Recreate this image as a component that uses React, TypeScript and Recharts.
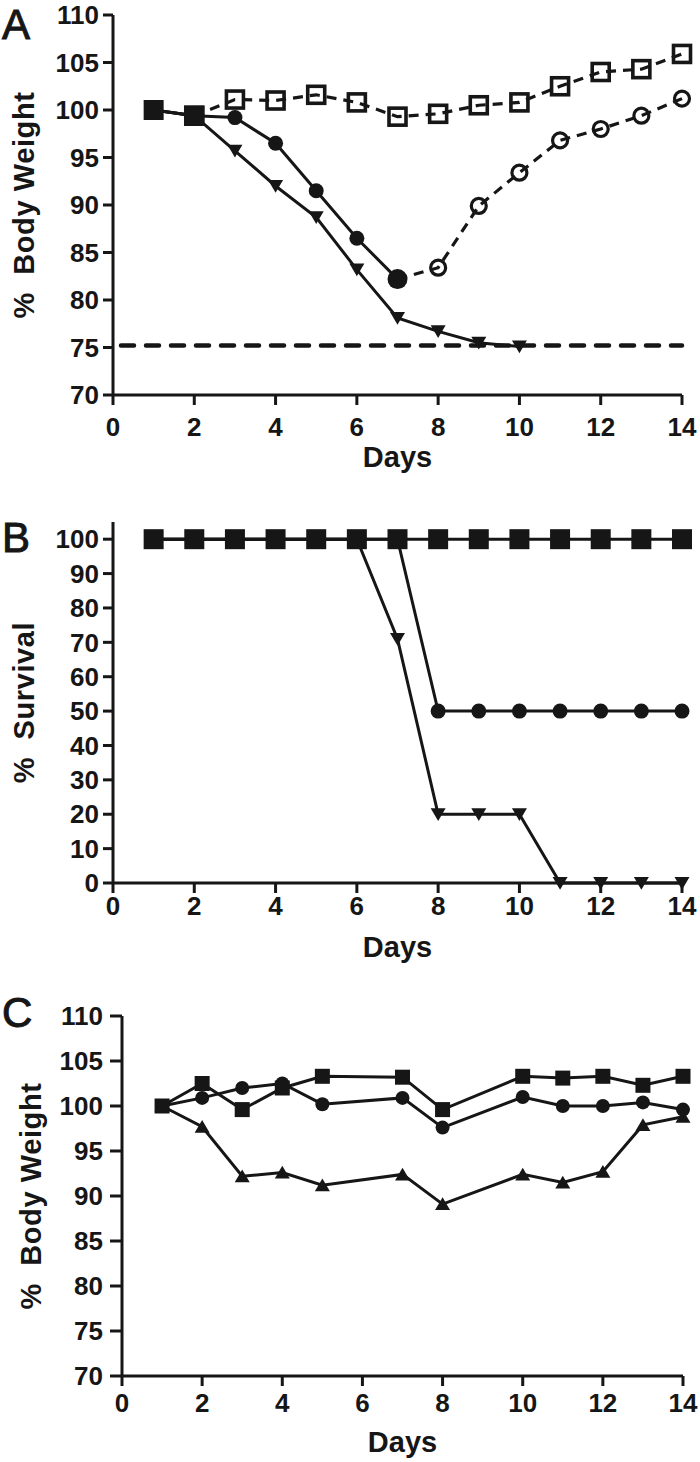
import React from 'react';
import { LineChart, Line, XAxis, YAxis, ReferenceLine } from 'recharts';

const FONT = '"Liberation Sans", Arial, Helvetica, sans-serif';
const INK = '#161616';

const xTicks = [0, 2, 4, 6, 8, 10, 12, 14];
const weightTicks = [70, 75, 80, 85, 90, 95, 100, 105, 110];
const survivalTicks = [0, 10, 20, 30, 40, 50, 60, 70, 80, 90, 100];

// panel A - body weight after challenge
const daysA = [1, 2, 3, 4, 5, 6, 7, 8, 9, 10, 11, 12, 13, 14];
const aSquareFilled = [100, 99.4]; // days 1-2
const aSquareOpen = [99.4, 101.1, 101.0, 101.6, 100.8, 99.3, 99.6, 100.5, 100.8, 102.5, 104.0, 104.3, 105.9]; // days 2-14
const aCircleFilled = [100, 99.4, 99.2, 96.5, 91.5, 86.5, 82.2]; // days 1-7
const aCircleOpen = [82.2, 83.4, 89.9, 93.4, 96.8, 98.0, 99.4, 101.2]; // days 7-14
const aTriangle = [100, 99.4, 95.7, 92.0, 88.7, 83.2, 78.1, 76.7, 75.5, 75.1]; // days 1-10
const aCutoff = 75.2;

// panel B - survival
const daysB = [1, 2, 3, 4, 5, 6, 7, 8, 9, 10, 11, 12, 13, 14];
const bSquare = [100, 100, 100, 100, 100, 100, 100, 100, 100, 100, 100, 100, 100, 100];
const bCircle = [100, 100, 100, 100, 100, 100, 100, 50, 50, 50, 50, 50, 50, 50];
const bTriangle = [100, 100, 100, 100, 100, 100, 71, 20, 20, 20, 0, 0, 0, 0];

// panel C - body weight, second experiment
const daysC = [1, 2, 3, 4, 5, 7, 8, 10, 11, 12, 13, 14];
const cSquare = [100, 102.5, 99.6, 102.0, 103.3, 103.2, 99.6, 103.3, 103.1, 103.3, 102.3, 103.3];
const cCircle = [100, 100.9, 102.0, 102.5, 100.2, 100.9, 97.6, 101.0, 100.0, 100.0, 100.4, 99.6];
const cTriangle = [100, 97.7, 92.2, 92.6, 91.2, 92.4, 89.1, 92.4, 91.5, 92.7, 97.9, 98.8];

const pts = (days: number[], vals: number[]) => vals.map((v, i) => ({ day: days[i], v }));

type Mark = 'sq' | 'osq' | 'ci' | 'oci' | 'tdown' | 'tup';

const marker = (kind: Mark, size: number, bigIndex = -1, bigSize = size) => (p: any) => {
  const { cx, cy, index } = p;
  const k = `${kind}-${index}`;
  if (cx == null || cy == null) return <g key={k} />;
  const s = index === bigIndex ? bigSize : size;
  const h = s / 2;
  switch (kind) {
    case 'sq':
      return <rect key={k} x={cx - h} y={cy - h} width={s} height={s} fill={INK} />;
    case 'osq':
      return <rect key={k} x={cx - h} y={cy - h} width={s} height={s} fill="none" stroke={INK} strokeWidth={3.6} />;
    case 'ci':
      return <circle key={k} cx={cx} cy={cy} r={h} fill={INK} />;
    case 'oci':
      return <circle key={k} cx={cx} cy={cy} r={h} fill="none" stroke={INK} strokeWidth={3.2} />;
    case 'tdown':
      return <polygon key={k} points={`${cx - h},${cy - h * 0.8} ${cx + h},${cy - h * 0.8} ${cx},${cy + h * 0.9}`} fill={INK} />;
    default:
      return <polygon key={k} points={`${cx - h},${cy + h * 0.8} ${cx + h},${cy + h * 0.8} ${cx},${cy - h * 0.9}`} fill={INK} />;
  }
};

const axisLine = { stroke: INK, strokeWidth: 3 };
const tickStyle = { fill: INK, fontSize: 26, fontWeight: 700, fontFamily: FONT };

const yLabel = (text: string, x: number) => (props: any) => {
  const vb = props.viewBox;
  const cy = vb.y + vb.height / 2;
  return (
    <text x={x} y={cy} transform={`rotate(-90, ${x}, ${cy})`} textAnchor="middle" fill={INK}
      style={{ fontFamily: FONT, fontSize: 29, fontWeight: 700, whiteSpace: 'pre', letterSpacing: 0.6 }}>
      {text}
    </text>
  );
};

const daysLabel = (below: number) => (props: any) => {
  const vb = props.viewBox;
  return (
    <text x={vb.x + vb.width / 2} y={vb.y + below} textAnchor="middle" fill={INK}
      style={{ fontFamily: FONT, fontSize: 29, fontWeight: 700 }}>
      Days
    </text>
  );
};

const solid = { stroke: INK, strokeWidth: 3, isAnimationActive: false, type: 'linear' as const };
const dashed = { ...solid, strokeWidth: 3.2, strokeDasharray: '10 7' };

const Panel = ({ letter, top, size = 42, baseline }: { letter: string; top: number; size?: number; baseline: number }) => (
  <svg width={70} height={70} style={{ position: 'absolute', left: 0, top }}>
    <text x={2} y={baseline} fill={INK} stroke={INK} strokeWidth={1} style={{ fontFamily: FONT, fontSize: size }}>{letter}</text>
  </svg>
);

export default function App() {
  return (
    <div style={{ position: 'absolute', left: 0, top: 0, width: 700, height: 1462, background: '#fff' }}>
      {/* A */}
      <div style={{ position: 'absolute', left: 0, top: 0 }}>
        <LineChart width={700} height={480} margin={{ top: 15, right: 18, bottom: 0, left: 0 }}>
          <XAxis type="number" dataKey="day" domain={[0, 14]} ticks={xTicks} height={85}
            axisLine={axisLine} tickLine={axisLine} tickSize={10} tickMargin={13} tick={tickStyle}
            label={{ content: daysLabel(72) }} />
          <YAxis type="number" domain={[70, 110]} ticks={weightTicks} width={113} interval={0}
            axisLine={axisLine} tickLine={axisLine} tickSize={10} tickMargin={4} tick={tickStyle}
            label={{ content: yLabel('%  Body Weight', 34) }} />
          <ReferenceLine y={aCutoff} stroke={INK} strokeWidth={4.5} strokeDasharray="13 12" strokeLinecap="round" strokeDashoffset={-8} />
          <Line data={pts(daysA, aTriangle)} dataKey="v" {...solid} dot={marker('tdown', 15)} />
          <Line data={pts(daysA.slice(6), aCircleOpen)} dataKey="v" {...dashed} dot={marker('oci', 15)} />
          <Line data={pts(daysA, aCircleFilled)} dataKey="v" {...solid} dot={marker('ci', 15, 6, 20)} />
          <Line data={pts(daysA.slice(1), aSquareOpen)} dataKey="v" {...dashed} dot={marker('osq', 17)} />
          <Line data={pts(daysA, aSquareFilled)} dataKey="v" {...solid} dot={marker('sq', 20)} />
        </LineChart>
      </div>
      {/* B */}
      <div style={{ position: 'absolute', left: 0, top: 480 }}>
        <LineChart width={700} height={490} margin={{ top: 42, right: 18, bottom: 0, left: 0 }}>
          <XAxis type="number" dataKey="day" domain={[0, 14]} ticks={xTicks} height={87}
            axisLine={axisLine} tickLine={axisLine} tickSize={10} tickMargin={4} tick={tickStyle}
            label={{ content: daysLabel(74) }} />
          <YAxis type="number" domain={[0, 105]} ticks={survivalTicks} width={113} interval={0}
            axisLine={axisLine} tickLine={axisLine} tickSize={10} tickMargin={4} tick={tickStyle}
            label={{ content: yLabel('%  Survival', 34) }} />
          <Line data={pts(daysB, bTriangle)} dataKey="v" {...solid} dot={marker('tdown', 15)} />
          <Line data={pts(daysB, bCircle)} dataKey="v" {...solid} dot={marker('ci', 15)} />
          <Line data={pts(daysB, bSquare)} dataKey="v" {...solid} dot={marker('sq', 20)} />
        </LineChart>
      </div>
      {/* C */}
      <div style={{ position: 'absolute', left: 0, top: 975 }}>
        <LineChart width={700} height={487} margin={{ top: 41, right: 17, bottom: 0, left: 0 }}>
          <XAxis type="number" dataKey="day" domain={[0, 14]} ticks={xTicks} height={86}
            axisLine={axisLine} tickLine={axisLine} tickSize={10} tickMargin={8} tick={tickStyle}
            label={{ content: daysLabel(76) }} />
          <YAxis type="number" domain={[70, 110]} ticks={weightTicks} width={122} interval={0}
            axisLine={axisLine} tickLine={axisLine} tickSize={12} tickMargin={7} tick={tickStyle}
            label={{ content: yLabel('%  Body Weight', 41) }} />
          <Line data={pts(daysC, cTriangle)} dataKey="v" {...solid} dot={marker('tup', 15)} />
          <Line data={pts(daysC, cCircle)} dataKey="v" {...solid} dot={marker('ci', 14)} />
          <Line data={pts(daysC, cSquare)} dataKey="v" {...solid} dot={marker('sq', 15)} />
        </LineChart>
      </div>
      <Panel letter="A" top={0} baseline={39} />
      <Panel letter="B" top={500} baseline={52} />
      <Panel letter="C" top={975} baseline={52} />
    </div>
  );
}
